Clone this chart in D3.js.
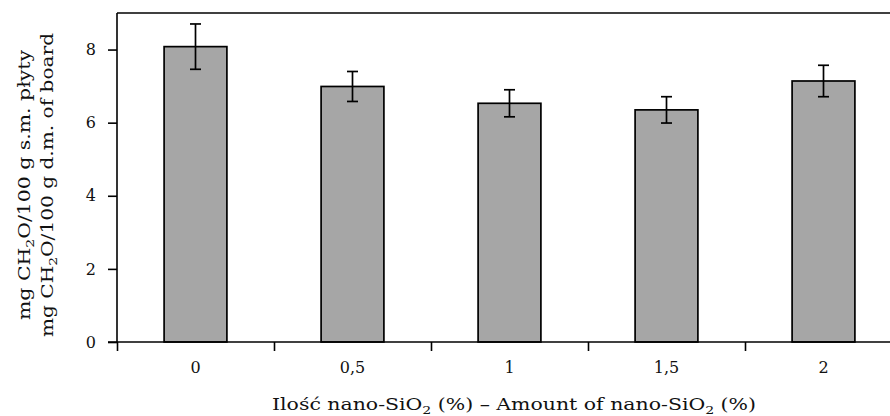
<!DOCTYPE html>
<html>
<head>
<meta charset="utf-8">
<script src="https://cdn.jsdelivr.net/npm/d3@7"></script>
<style>
  body { margin: 0; background: #fff; }
  svg { display: block; }
  text { font-family: "DejaVu Serif", "Liberation Serif", serif; fill: #111; }
</style>
</head>
<body>
<svg id="chart" width="890" height="416"></svg>
<script>
var categories = ["0", "0,5", "1", "1,5", "2"];
var values = [8.08, 6.99, 6.53, 6.35, 7.14];
var errors = [0.62, 0.41, 0.37, 0.36, 0.43];
var yTicks = [0, 2, 4, 6, 8];

var margin = {left: 117, top: 13, bottom: 74};
var plotWidth = 785;   // runs past the right edge of the window, as in the original
var plotHeight = 416 - margin.top - margin.bottom;

var svg = d3.select("#chart");
var g = svg.append("g")
    .attr("transform", "translate(" + margin.left + "," + margin.top + ")");

var x = d3.scaleBand()
    .domain(categories)
    .range([0, plotWidth])
    .paddingInner(0.6)
    .paddingOuter(0.3);

var y = d3.scaleLinear()
    .domain([0, 9])
    .range([plotHeight, 0]);

// category boundary ticks
var xEdges = d3.scaleLinear().domain([0, categories.length]).range([0, plotWidth]);

// bars
g.selectAll("rect.bar")
  .data(values)
  .enter()
  .append("rect")
  .attr("class", "bar")
  .attr("x", function(d, i) { return x(categories[i]); })
  .attr("y", function(d) { return y(d); })
  .attr("width", x.bandwidth())
  .attr("height", function(d) { return plotHeight - y(d); })
  .style("fill", "#a6a6a6")
  .style("stroke", "#000")
  .style("stroke-width", 1.7);

// error bars
var capW = 5.5;
var eb = g.selectAll("g.err")
  .data(values)
  .enter()
  .append("g")
  .attr("class", "err")
  .attr("transform", function(d, i) { return "translate(" + (x(categories[i]) + x.bandwidth() / 2) + ",0)"; });

eb.append("line")
  .attr("y1", function(d, i) { return y(d + errors[i]); })
  .attr("y2", function(d, i) { return y(d - errors[i]); });
eb.append("line")
  .attr("x1", -capW).attr("x2", capW)
  .attr("y1", function(d, i) { return y(d + errors[i]); })
  .attr("y2", function(d, i) { return y(d + errors[i]); });
eb.append("line")
  .attr("x1", -capW).attr("x2", capW)
  .attr("y1", function(d, i) { return y(d - errors[i]); })
  .attr("y2", function(d, i) { return y(d - errors[i]); });
eb.selectAll("line")
  .style("stroke", "#000")
  .style("stroke-width", 1.7);

// top frame line
g.append("line")
  .attr("x1", 0).attr("x2", plotWidth)
  .attr("y1", 0).attr("y2", 0)
  .style("stroke", "#000")
  .style("stroke-width", 1.6);

// y axis
var yAxis = g.append("g")
  .call(d3.axisLeft(y).tickValues(yTicks).tickSize(9).tickPadding(12).tickFormat(d3.format("d")));
yAxis.select(".domain").attr("d", "M0," + plotHeight + "V0");

// x axis: boundary ticks
var xAxis = g.append("g")
  .attr("transform", "translate(0," + plotHeight + ")")
  .call(d3.axisBottom(xEdges).tickValues(d3.range(categories.length + 1)).tickSize(9).tickFormat(""));
xAxis.select(".domain").attr("d", "M-9,0H" + plotWidth);

// x axis: category labels
var xLabels = g.append("g")
  .attr("transform", "translate(0," + plotHeight + ")")
  .call(d3.axisBottom(x).tickSize(0).tickPadding(20));
xLabels.select(".domain").remove();

svg.selectAll(".domain, .tick line")
  .style("stroke", "#000")
  .style("stroke-width", 1.6);
svg.selectAll(".tick text")
  .style("font-family", "'DejaVu Serif', serif")
  .style("font-size", "16px")
  .style("fill", "#111");

// axis titles
function addTitle(sel, parts) {
  parts.forEach(function(p) {
    var t = sel.append("tspan").text(p[0]);
    if (p[1]) t.attr("font-size", "11px").attr("dy", 4);
    else if (p[2]) t.attr("dy", -4);
  });
}

var xt = svg.append("text")
  .attr("x", 514).attr("y", 410)
  .attr("text-anchor", "middle")
  .attr("textLength", 484)
  .attr("lengthAdjust", "spacingAndGlyphs")
  .style("font-size", "16px");
addTitle(xt, [["Ilość nano-SiO"], ["2", true], [" (%) – Amount of nano-SiO", false, true], ["2", true], [" (%)", false, true]]);

var yt1 = svg.append("text")
  .attr("transform", "translate(30,185) rotate(-90)")
  .attr("text-anchor", "middle")
  .attr("textLength", 270)
  .attr("lengthAdjust", "spacingAndGlyphs")
  .style("font-size", "16px");
addTitle(yt1, [["mg CH"], ["2", true], ["O/100 g s.m. płyty", false, true]]);

var yt2 = svg.append("text")
  .attr("transform", "translate(53,185) rotate(-90)")
  .attr("text-anchor", "middle")
  .attr("textLength", 304)
  .attr("lengthAdjust", "spacingAndGlyphs")
  .style("font-size", "16px");
addTitle(yt2, [["mg CH"], ["2", true], ["O/100 g d.m. of board", false, true]]);
</script>
</body>
</html>
